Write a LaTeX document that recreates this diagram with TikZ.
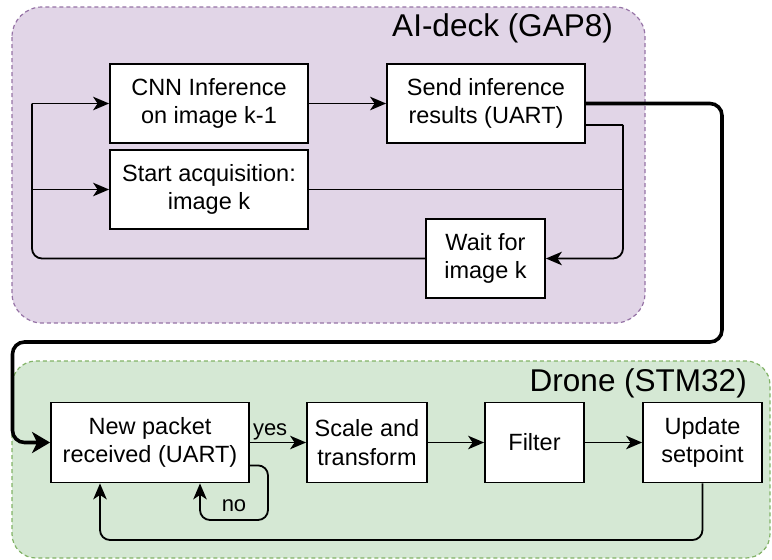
\documentclass[tikz,border=0pt]{standalone}
\usepackage{fontspec}
\setmainfont{Liberation Sans}
\usetikzlibrary{arrows.meta}
\definecolor{deckfill}{HTML}{E1D5E7}
\definecolor{deckline}{HTML}{9673A6}
\definecolor{dronefill}{HTML}{D5E8D4}
\definecolor{droneline}{HTML}{82B366}
\begin{document}
\begin{tikzpicture}[x=1pt,y=-1pt,
  box/.style={draw=black, line width=1.8pt, fill=white, align=center, inner sep=0pt,
    font=\fontsize{23.5}{28.2}\selectfont},
  flow/.style={line width=1.8pt, rounded corners=10pt,
    -{Stealth[length=16pt,width=13.5pt,inset=4.5pt]}},
  plain/.style={line width=1.8pt, rounded corners=10pt},
  bus/.style={line width=3.6pt, rounded corners=12pt,
    -{Stealth[length=18pt,width=21pt,inset=5pt]}},
  group/.style={dash pattern=on 4pt off 3pt, line width=1.2pt},
  title/.style={font=\fontsize{31.5}{38}\selectfont, anchor=base east, inner sep=0pt},
  lbl/.style={font=\fontsize{22}{26}\selectfont, inner sep=0pt}]
\useasboundingbox (0,0) rectangle (772,560);

% processor groups
\draw[group, draw=deckline, fill=deckfill, rounded corners=30pt] (12,7) rectangle (645,323);
\draw[group, draw=droneline, fill=dronefill, rounded corners=24pt] (12,361) rectangle (770,558);
\node[title] (decktitle) at (613,36) {AI-deck (GAP8)};
\node[title] (dronetitle) at (747,391) {Drone (STM32)};

% AI-deck steps
\node[box, minimum width=198pt, minimum height=79pt] (cnn) at (209,103.5) {CNN Inference\\on image k-1};
\node[box, minimum width=198pt, minimum height=79pt] (send) at (486,103.5) {Send inference\\results (UART)};
\node[box, minimum width=198pt, minimum height=79pt] (acq) at (209,189.5) {Start acquisition:\\image k};
\node[box, minimum width=119pt, minimum height=79pt] (wait) at (485.5,258.5) {Wait for\\image k};

% drone steps
\node[box, minimum width=198pt, minimum height=80pt] (pkt) at (150,442.5) {New packet\\received (UART)};
\node[box, minimum width=120pt, minimum height=80pt] (scale) at (367,442.5) {Scale and\\transform};
\node[box, minimum width=99pt, minimum height=80pt] (filt) at (534.5,442.5) {Filter};
\node[box, minimum width=119pt, minimum height=80pt] (upd) at (702.5,442.5) {Update\\setpoint};

% routing columns
\coordinate (lcol) at (32,0);
\coordinate (rcol) at (623,0);
\coordinate (sendlow) at ([yshift=19pt]send.south east);
\coordinate (busA) at (722,342);
\coordinate (busB) at (12.5,342);
\coordinate (pktlow) at ([yshift=18pt]pkt.south east);
\coordinate (noC) at (268,520);
\coordinate (noL) at (200,520);
\coordinate (retB) at (100,540);

% AI-deck loop
\draw[flow] (cnn.east) -- (send.west);
\draw[plain] (wait.west) -- (lcol |- wait.west) -- (lcol |- cnn.west);
\draw[flow] (lcol |- cnn.west) -- (cnn.west);
\draw[flow] (lcol |- acq.west) -- (acq.west);
\draw[plain] (sendlow) -- (sendlow -| rcol);
\draw[plain] (acq.east) -- (acq.east -| rcol);
\draw[flow] (sendlow -| rcol) |- (wait.east);

% UART link to the drone
\draw[bus] (send.east) -| (busA) -- (busB) |- (pkt.west);

% drone pipeline
\draw[flow] (pkt.east) -- node[lbl, pos=0.36, anchor=base, yshift=7pt] {yes} (scale.west);
\draw[flow] (scale.east) -- (filt.west);
\draw[flow] (filt.east) -- (upd.west);
\draw[flow] (pktlow) -| (noC) -- node[lbl, midway, above=7pt] {no} (noL) -- (noL |- pkt.south);
\draw[flow] (upd.south) |- (retB) -- (retB |- pkt.south);
\end{tikzpicture}
\end{document}
